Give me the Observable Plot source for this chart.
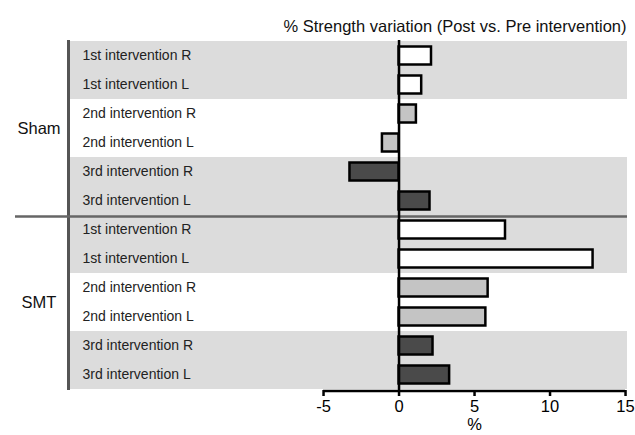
<!DOCTYPE html>
<html>
<head>
<meta charset="utf-8">
<script src="https://cdn.jsdelivr.net/npm/d3@7"></script>
<script src="https://cdn.jsdelivr.net/npm/@observablehq/plot@0.6"></script>
<style>
  html, body { margin: 0; padding: 0; background: #fff; }
</style>
</head>
<body>
<div id="chart"></div>
<script>
const groups = ["Sham", "SMT"];
const rowLabels = ["1st intervention R", "1st intervention L", "2nd intervention R", "2nd intervention L", "3rd intervention R", "3rd intervention L"];
const interventions = [1, 1, 2, 2, 3, 3];
const shamValues = [2.15, 1.5, 1.15, -1.1, -3.25, 2.05];
const smtValues = [7.05, 12.85, 5.9, 5.75, 2.25, 3.35];
const xTicks = [-5, 0, 5, 10, 15];
const titleText = "% Strength variation (Post vs. Pre intervention)";
const xLabel = "%";

const valuesByGroup = [shamValues, smtValues];
const rows = groups.flatMap((g, gi) => rowLabels.map((label, i) => ({
  group: g, label, key: g + "|" + label, value: valuesByGroup[gi][i], intervention: interventions[i]
})));
const groupRows = groups.map(g => ({group: g, key: g + "|" + rowLabels[2]}));

const W = 635, H = 435, mT = 40, mB = 45, mL = 68, mR = 8;
const bw = (H - mT - mB) / rows.length;
const xmin = -21.89, xmax = 15.13;
const sepX1 = -25.4;
const font = "'Liberation Sans', Arial, Helvetica, sans-serif";

const chart = Plot.plot({
  width: W, height: H,
  marginTop: mT, marginBottom: mB, marginLeft: mL, marginRight: mR,
  style: {fontFamily: font, color: "black", background: "white", overflow: "visible"},
  x: {domain: [xmin, xmax], axis: null},
  y: {domain: rows.map(d => d.key), padding: 0, axis: null},
  color: {type: "ordinal", domain: [1, 2, 3], range: ["#ffffff", "#c4c4c4", "#4a4a4a"]},
  marks: [
    Plot.barX(rows.filter(d => d.intervention !== 2), {y: "key", x1: xmin, x2: xmax, fill: "#dcdcdc"}),
    Plot.ruleX([xmin], {stroke: "#555", strokeWidth: 3}),
    Plot.ruleY([rows[6].key], {dy: -bw / 2 + 1, x1: sepX1, x2: xmax, stroke: "#666", strokeWidth: 2.5}),
    Plot.barX(rows, {y: "key", x1: 0, x2: "value", fill: "intervention", stroke: "black", strokeWidth: 2.5, insetTop: 5.5, insetBottom: 5.5}),
    Plot.ruleX([0], {stroke: "black", strokeWidth: 2.5}),
    Plot.ruleY([rows[rows.length - 1].key], {dy: bw / 2 + 1.3, x1: -5, x2: 15, stroke: "black", strokeWidth: 2.5}),
    Plot.axisX(xTicks, {tickSize: 6, tickPadding: 4, fontSize: 16.5, strokeWidth: 2.5, label: null, tickFormat: d => String(d).replace("−", "-")}),
    Plot.text([xLabel], {x: 5, frameAnchor: "bottom", dy: 34, fontSize: 16.5, lineAnchor: "middle"}),
    Plot.text(rows, {y: "key", text: "label", frameAnchor: "left", dx: 14, textAnchor: "start", fontSize: 14, fill: "#222"}),
    Plot.text(groupRows, {y: "key", text: "group", frameAnchor: "left", dx: -29.5, dy: bw / 2, textAnchor: "middle", fontSize: 16.5, fill: "#111"}),
    Plot.text([titleText], {frameAnchor: "top-right", dx: -1, dy: -14, textAnchor: "end", lineAnchor: "middle", fontSize: 16.5, fill: "#111"})
  ]
});
document.getElementById("chart").appendChild(chart);
</script>
</body>
</html>
